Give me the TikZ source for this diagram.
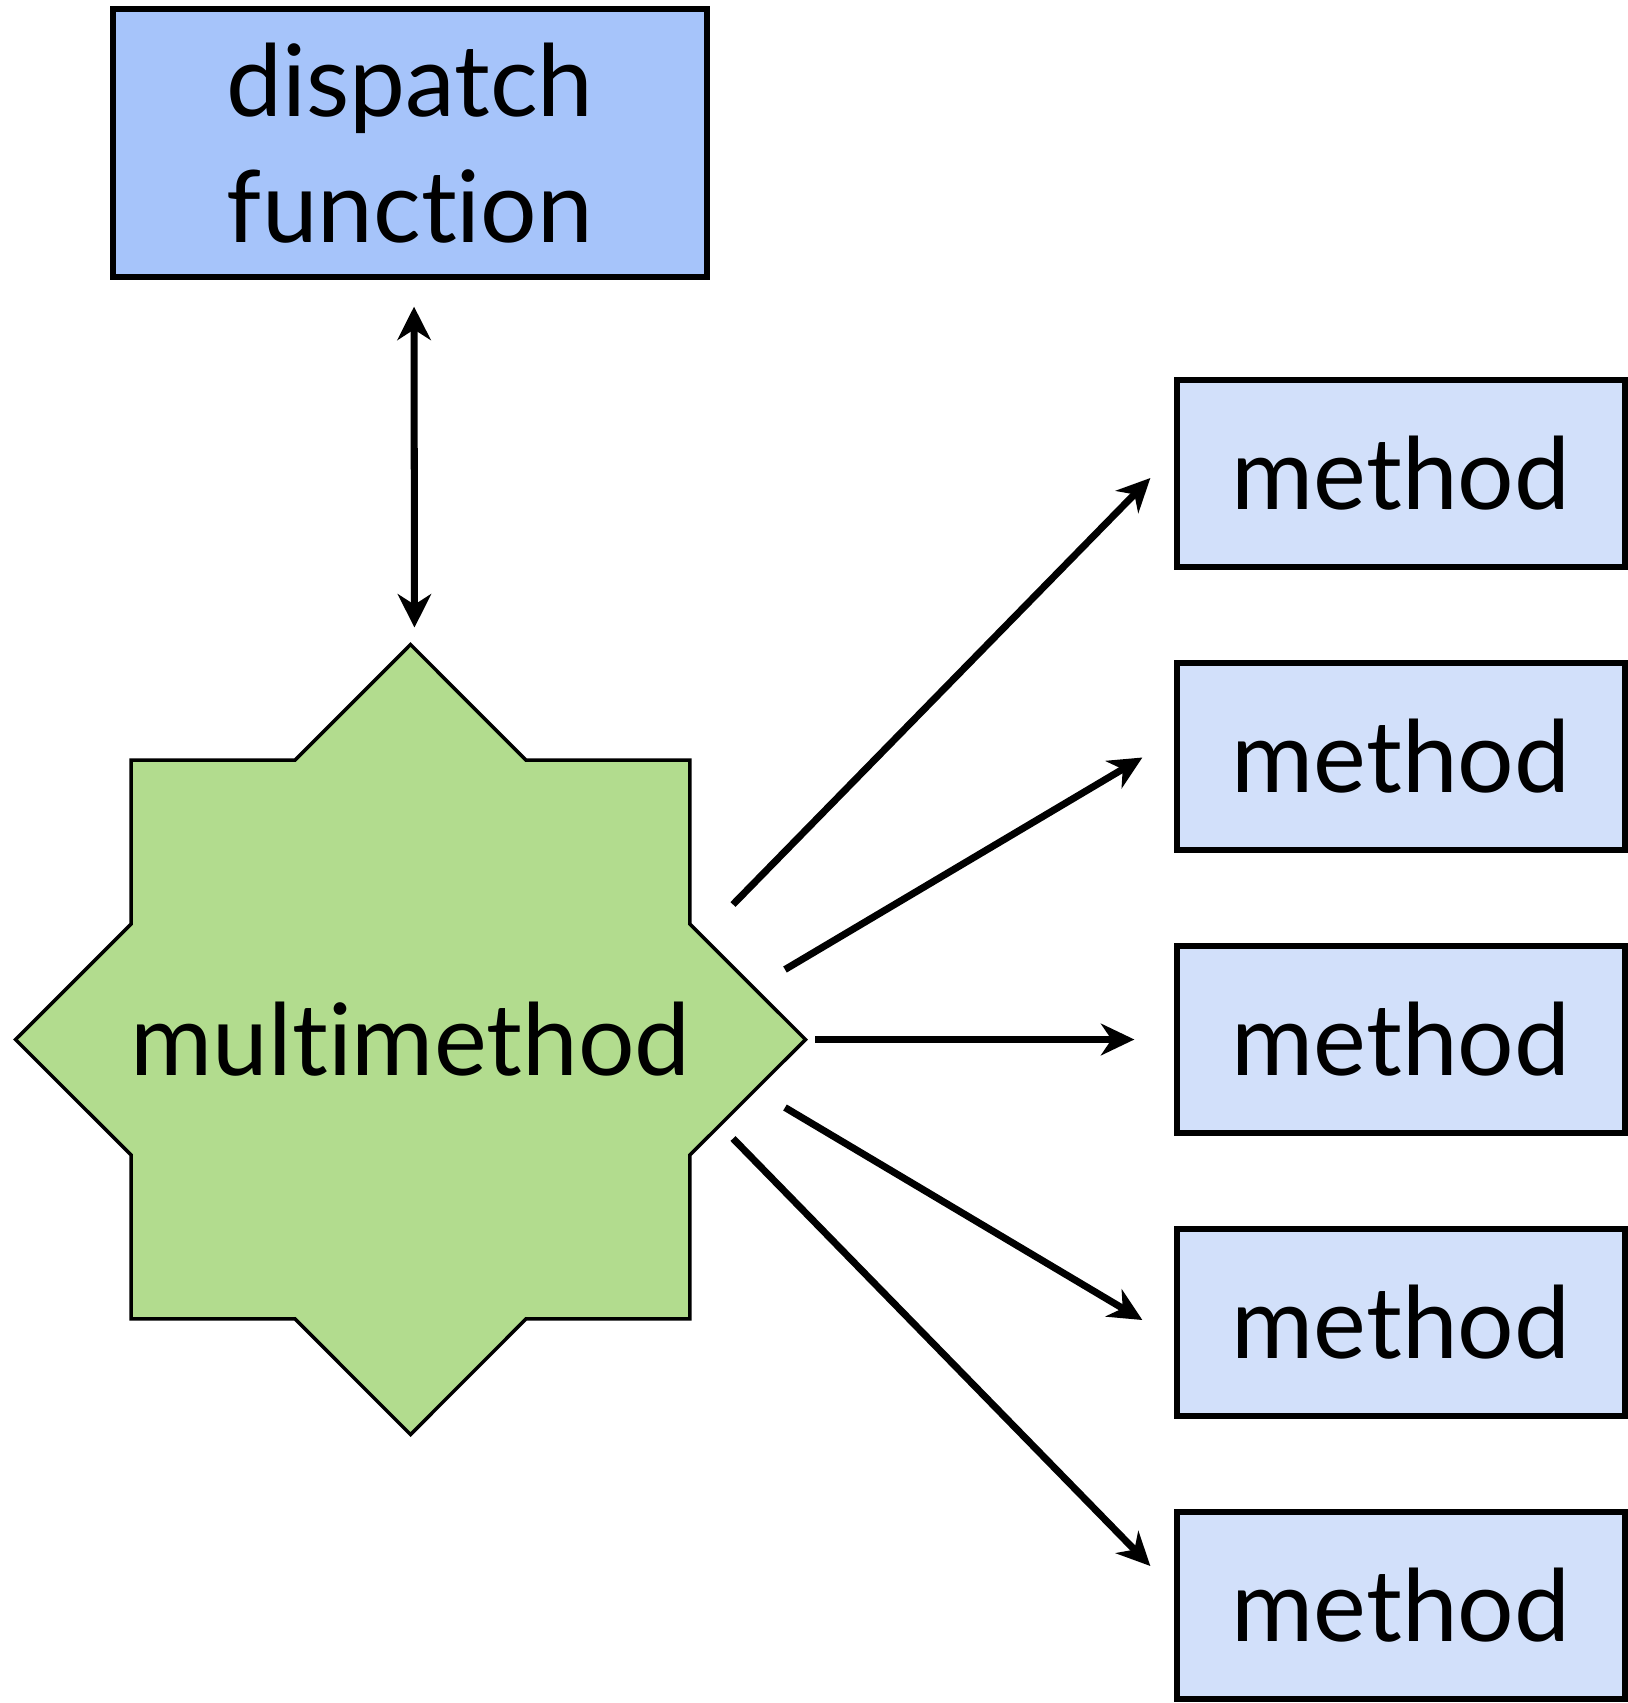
\documentclass[tikz,border=0pt]{standalone}
\usepackage{fontspec}
\setmainfont{Lato}[Ligatures=NoCommon]
\usetikzlibrary{arrows.meta,positioning}
\definecolor{dispblue}{RGB}{166,196,250}
\definecolor{methblue}{RGB}{210,224,250}
\definecolor{multigreen}{RGB}{178,220,142}
\tikzset{
  methodbox/.style={rectangle, draw, line width=1.5pt, fill=methblue,
    minimum width=4.48cm, minimum height=1.87cm, font=\fontsize{28.4}{34}\selectfont},
  callarrow/.style={draw, line width=2pt, -{Stealth[length=9.5pt, width=9pt, inset=3pt]}}
}

\begin{document}
\begin{tikzpicture}
        \useasboundingbox (0,0) rectangle (16.27,-17.03);
        %nodes
        \node[rectangle, draw, line width=1.5pt, fill=dispblue, minimum width=5.94cm, minimum height=2.68cm,
          align=center, font=\fontsize{28.4}{36}\selectfont] (disp) at (4.10,-1.43) {dispatch\\function};
        % eight-pointed star, outer radius 3.95, inner 3.023
        \begin{scope}[shift={(4.105,-10.395)}]
          \draw[line width=1pt, fill=multigreen] (90:3.95)
            \foreach \a in {1,...,15} {-- ({90+22.5*\a}:{ifthenelse(mod(\a,2)==0,3.95,3.023)})} -- cycle;
          \coordinate (tip) at (90:3.95);
        \end{scope}
        \node[font=\fontsize{28.4}{34}\selectfont] (multi) at (4.105,-10.395) {multimethod};
        \foreach \i in {1,...,5}
          \node[methodbox] (m\i) at (14.01,{-4.735-2.83*(\i-1)}) {method};
        %arrow ends
        \coordinate (s1) at ([shift={(3.225,1.35)}]multi.center);
        \coordinate (s2) at ([shift={(3.745,0.70)}]multi.center);
        \coordinate (s3) at ([shift={(4.045,0)}]multi.center);
        \coordinate (s4) at ([shift={(3.745,-0.68)}]multi.center);
        \coordinate (s5) at ([shift={(3.225,-0.99)}]multi.center);
        \coordinate (e1) at ([shift={(-0.24,-0.045)}]m1.west);
        \coordinate (e2) at ([shift={(-0.32,-0.01)}]m2.west);
        \coordinate (e3) at ([shift={(-0.40,0)}]m3.west);
        \coordinate (e4) at ([shift={(-0.32,0.025)}]m4.west);
        \coordinate (e5) at ([shift={(-0.24,0.395)}]m5.west);
        %edges
        \path [draw, line width=2pt, {Stealth[length=9.5pt, width=9.5pt, inset=3pt]}-{Stealth[length=9.5pt, width=9.5pt, inset=3pt]},
          shorten <=0.27cm, shorten >=0.17cm] ([xshift=0.04cm]disp.south) to ([xshift=0.04cm]tip);
        \foreach \i in {1,...,5}
          \path [callarrow] (s\i) to (e\i);
      \end{tikzpicture}
\end{document}
